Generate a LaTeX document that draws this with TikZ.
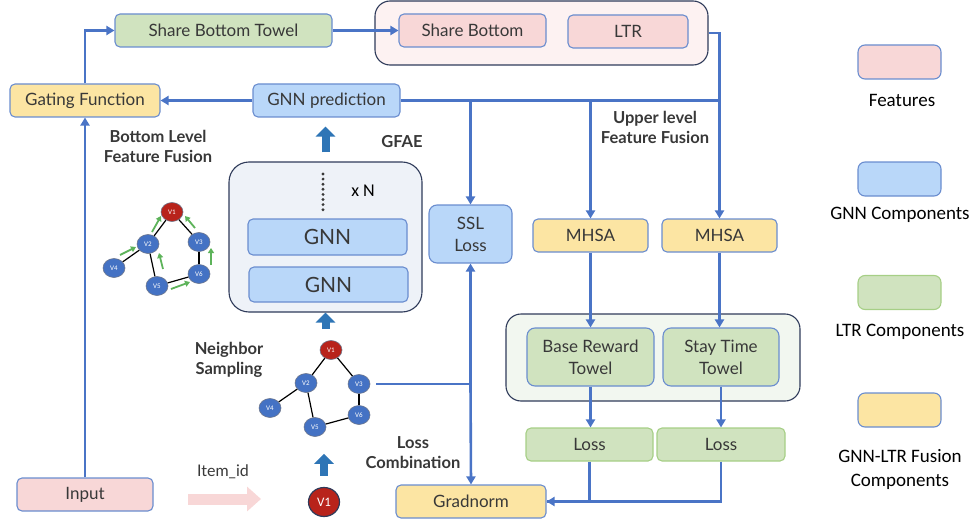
\documentclass[tikz,border=0pt]{standalone}
\usepackage{fontspec}
\setmainfont{Lato}
\newfontfamily\calfont{Carlito}
\usetikzlibrary{arrows.meta,shapes.geometric}
\definecolor{pinkf}{HTML}{F8D7D7}
\definecolor{bluef}{HTML}{B9D7F9}
\definecolor{greenf}{HTML}{D0E3BF}
\definecolor{yellowf}{HTML}{FCE5A3}
\definecolor{bbord}{HTML}{6A8DCF}
\definecolor{gbord}{HTML}{A6CF86}
\definecolor{lblue}{HTML}{4A74C6}
\definecolor{dblue}{HTML}{2E75B6}
\definecolor{navy}{HTML}{2F3B5A}
\definecolor{txt}{HTML}{383838}
\definecolor{nodeb}{HTML}{4472C4}
\definecolor{noder}{HTML}{B8231B}
\definecolor{garrow}{HTML}{5DB35A}
\definecolor{gfaef}{HTML}{EEF2F8}
\definecolor{topf}{HTML}{FDF2F2}
\definecolor{gcontf}{HTML}{F2F7F0}
\begin{document}
\begin{tikzpicture}[x=1pt,y=-1pt,
  box/.style={draw=bbord, line width=1.1pt, rounded corners=5pt, text=txt, inner sep=0pt, align=center,
    font=\fontsize{17}{22}\selectfont},
  pinkbox/.style={box, fill=pinkf},
  bluebox/.style={box, fill=bluef},
  greenbox/.style={box, fill=greenf},
  lossbox/.style={box, fill=greenf, draw=gbord},
  yellowbox/.style={box, fill=yellowf},
  container/.style={draw=navy, line width=1.1pt, rounded corners=15pt},
  conn/.style={draw=lblue, line width=2.6pt, -{Triangle[length=8pt,width=9pt]}},
  plain/.style={draw=lblue, line width=2.6pt},
  bigarrow/.style={draw=dblue, line width=8pt, -{Triangle[length=10pt,width=19pt]}},
  lbl/.style={text=txt, font=\bfseries\fontsize{16.5}{20}\selectfont, align=center, inner sep=0pt},
  legtxt/.style={text=black, font=\calfont\fontsize{19}{24}\selectfont, align=center, inner sep=0pt},
  gn/.style={ellipse, draw=navy!70, line width=0.6pt, fill=nodeb, text=white, minimum width=22pt, minimum height=19pt, inner sep=0pt, font=\calfont\fontsize{7}{8}\selectfont},
  rn/.style={gn, fill=noder},
  edge/.style={draw=black, line width=1.2pt},
  garr/.style={draw=garrow, line width=1.8pt, -{Triangle[length=5pt,width=6pt]}}
]
\useasboundingbox (0,0) rectangle (979,524);

% containers
\node[container, fill=topf, minimum width=333pt, minimum height=64pt] (top) at (541.5,33) {};
\node[container, fill=gfaef, draw=navy, rounded corners=20pt, minimum width=193pt, minimum height=150pt] (gfae) at (325.5,237) {};
\node[container, fill=gcontf, minimum width=294pt, minimum height=87pt] (gcont) at (653,357.5) {};

% boxes
\node[greenbox, minimum width=217pt, minimum height=33pt] (sbt) at (223.5,30.5) {Share Bottom Towel};
\node[pinkbox, minimum width=147pt, minimum height=33pt] (sb) at (472.5,30.5) {Share Bottom};
\node[pinkbox, minimum width=120pt, minimum height=33pt] (ltr) at (628,31.5) {LTR};
\node[yellowbox, minimum width=150pt, minimum height=33pt] (gate) at (85,100.5) {Gating Function};
\node[bluebox, minimum width=147pt, minimum height=33pt] (gnnp) at (326.5,100.5) {GNN prediction};
\node[pinkbox, minimum width=136pt, minimum height=33pt] (input) at (85,494.5) {Input};
\node[bluebox, minimum width=159pt, minimum height=36pt, font=\fontsize{21}{24}\selectfont] (gnn1) at (327.5,237) {GNN};
\node[bluebox, minimum width=159pt, minimum height=35pt, font=\fontsize{21}{24}\selectfont] (gnn2) at (328.5,284.5) {GNN};
\node[bluebox, rounded corners=8pt, minimum width=83pt, minimum height=58pt] (ssl) at (470.5,234) {SSL\\Loss};
\node[yellowbox, minimum width=115pt, minimum height=33pt] (mhsa1) at (590.5,235.5) {MHSA};
\node[yellowbox, minimum width=115pt, minimum height=33pt] (mhsa2) at (719.5,235.5) {MHSA};
\node[greenbox, rounded corners=8pt, minimum width=127pt, minimum height=58pt] (brt) at (590.5,357) {Base Reward\\Towel};
\node[greenbox, rounded corners=8pt, minimum width=116pt, minimum height=58pt] (stt) at (721,357) {Stay Time\\Towel};
\node[lossbox, minimum width=127pt, minimum height=33pt] (loss1) at (589.5,444.5) {Loss};
\node[lossbox, minimum width=128pt, minimum height=33pt] (loss2) at (721,444.5) {Loss};
\node[yellowbox, minimum width=150pt, minimum height=33pt] (grad) at (471,501.5) {Gradnorm};

% GFAE inner
\coordinate (dtop) at (323,174);
\coordinate (dbot) at (323,210);
\draw[draw=txt, line width=3.2pt, line cap=round, dash pattern=on 0pt off 5.1pt] (dtop) -- (dbot);
\node[text=black, font=\calfont\fontsize{18}{20}\selectfont, inner sep=0pt] (xn) at (363,191) {x N};

% labels
\node[lbl] (lbf) at (158,146) {Bottom Level\\Feature Fusion};
\node[lbl] (lgfae) at (402,142) {GFAE};
\node[lbl] (lup) at (655,127) {Upper level\\Feature Fusion};
\node[lbl] (lns) at (229,360) {Neighbor\\Sampling};
\node[lbl] (llc) at (413,453) {Loss\\Combination};
\node[text=txt, font=\fontsize{16}{18}\selectfont, inner sep=0pt] (litem) at (223,472) {Item\_id};

% left graph
\node[rn] (l1) at (172,212) {V1};
\node[gn] (l2) at (148,244) {V2};
\node[gn] (l3) at (199,242) {V3};
\node[gn] (l4) at (114,268) {V4};
\node[gn] (l5) at (157,286) {V5};
\node[gn] (l6) at (199,274) {V6};
\draw[edge] (l1) -- (l2);
\draw[edge] (l1) -- (l3);
\draw[edge] (l2) -- (l4);
\draw[edge] (l2) -- (l5);
\draw[edge] (l5) -- (l6);
\draw[edge] (l3) -- (l6);
\coordinate (ga1) at (120,255); \coordinate (ga2) at (136,247);
\coordinate (gb1) at (152,232); \coordinate (gb2) at (161,216);
\coordinate (gc1) at (163,269); \coordinate (gc2) at (159,253);
\coordinate (gd1) at (171,289); \coordinate (gd2) at (190,282);
\coordinate (ge1) at (211,265); \coordinate (ge2) at (211,248);
\coordinate (gf1) at (195,228); \coordinate (gf2) at (185,216);
\draw[garr] (ga1) -- (ga2);
\draw[garr] (gb1) -- (gb2);
\draw[garr] (gc1) -- (gc2);
\draw[garr] (gd1) -- (gd2);
\draw[garr] (ge1) -- (ge2);
\draw[garr] (gf1) -- (gf2);

% middle graph
\node[rn] (m1) at (331,350) {V1};
\node[gn] (m2) at (306,383) {V2};
\node[gn] (m3) at (359,384) {V3};
\node[gn] (m4) at (270,408) {V4};
\node[gn] (m5) at (315,427) {V5};
\node[gn] (m6) at (359,415) {V6};
\draw[edge] (m1) -- (m2);
\draw[edge] (m1) -- (m3);
\draw[edge] (m2) -- (m4);
\draw[edge] (m2) -- (m5);
\draw[edge] (m5) -- (m6);
\draw[edge] (m3) -- (m6);

% big V1 and item arrow
\node[ellipse, draw=navy, line width=1.2pt, fill=noder, text=white, minimum width=31pt, minimum height=29pt, inner sep=0pt, font=\calfont\fontsize{13}{14}\selectfont] (bv1) at (324,502) {V1};
\coordinate (ia1) at (188,499);
\coordinate (ia2) at (261,499);
\draw[draw=pinkf, line width=11pt, -{Triangle[length=14pt,width=24pt]}] (ia1) -- (ia2);

% thick arrows
\draw[bigarrow, shorten <=9pt, shorten >=9pt] (gfae.north) -- (gfae.north |- gnnp.south);
\draw[bigarrow, shorten <=11pt] (m1.north -| gfae.south) -- (gfae.south);
\draw[bigarrow, shorten <=11pt, shorten >=17pt] (bv1.north) -- (bv1.north |- m5.south);

% connectors
\draw[conn] (gate.north) |- (sbt.west);
\draw[conn] (sbt.east) -- (sb.west);
\draw[conn] (gnnp.west) -- (gate.east);
\draw[conn] (input.north) -- (gate.south);
\draw[conn] (top.east) -| (mhsa2.north);
\coordinate (jr) at (gnnp.east -| mhsa2.north);
\draw[plain] (gnnp.east) -- (jr);
\coordinate (js) at (gnnp.east -| ssl.north);
\coordinate (jm) at (gnnp.east -| mhsa1.north);
\draw[conn] (js) -- (ssl.north);
\draw[conn] (jm) -- (mhsa1.north);
\coordinate (jc) at (m3 -| ssl.south);
\draw[plain, shorten <=6pt] (m3.east) -- (jc);
\draw[conn] (jc) -- (ssl.south);
\draw[conn] (jc) -- (grad.north);
\draw[conn] (mhsa1.south) -- (brt.north);
\draw[conn] (mhsa2.south) -- (brt.north -| mhsa2.south);
\draw[conn] (brt.south) -- (loss1.north -| brt.south);
\draw[conn] (stt.south -| loss2.north) -- (loss2.north);
\draw[conn] (loss1.south) |- (grad.east);
\draw[plain] (loss2.south) |- (grad.east);

% legend
\node[pinkbox, rounded corners=7pt, minimum width=83pt, minimum height=34pt] (lg1) at (899.5,62) {};
\node[bluebox, rounded corners=7pt, minimum width=83pt, minimum height=34pt] (lg2) at (899.5,179) {};
\node[lossbox, rounded corners=7pt, minimum width=83pt, minimum height=34pt] (lg3) at (899.5,292.5) {};
\node[yellowbox, rounded corners=7pt, minimum width=83pt, minimum height=34pt] (lg4) at (899.5,410) {};
\node[legtxt] (lt1) at (902,100) {Features};
\node[legtxt] (lt2) at (900,215) {GNN Components};
\node[legtxt] (lt3) at (900,332) {LTR Components};
\node[legtxt] (lt4) at (900,469) {GNN-LTR Fusion\\Components};
\end{tikzpicture}
\end{document}
